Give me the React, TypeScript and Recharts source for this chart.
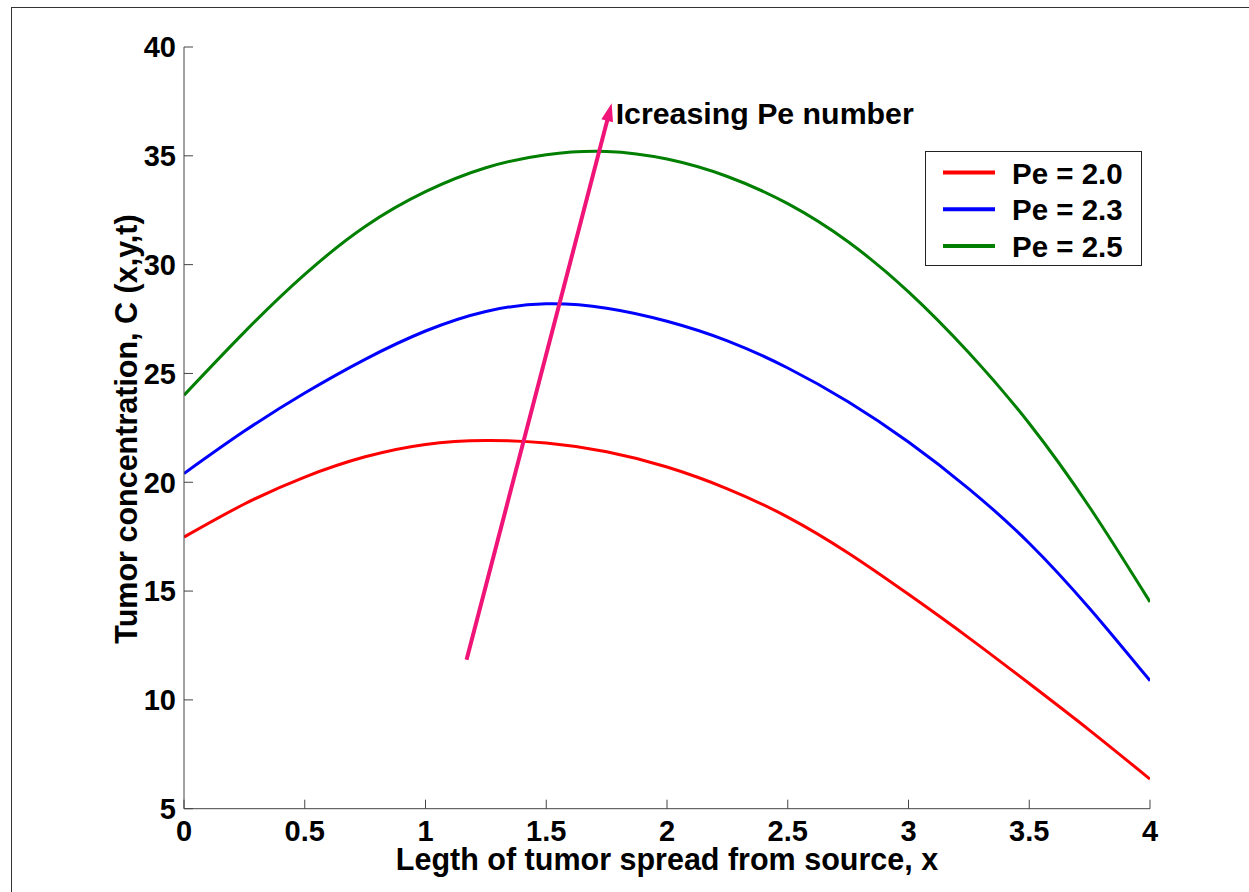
import React from "react";
import { LineChart, Line, XAxis, YAxis, ReferenceLine } from "recharts";

// values
const xValues = [0, 0.25, 0.5, 0.75, 1, 1.25, 1.5, 1.75, 2, 2.25, 2.5, 2.75, 3, 3.25, 3.5, 3.75, 4];
const pe20 = [17.48, 19.0, 20.24, 21.17, 21.74, 21.92, 21.8, 21.4, 20.7, 19.7, 18.4, 16.75, 14.85, 12.85, 10.75, 8.6, 6.36];
const pe23 = [20.4, 22.35, 24.1, 25.65, 26.95, 27.85, 28.2, 28.0, 27.4, 26.5, 25.25, 23.7, 21.85, 19.7, 17.2, 14.2, 10.88];
const pe25 = [24.0, 26.9, 29.55, 31.75, 33.35, 34.45, 35.05, 35.2, 34.85, 34.05, 32.8, 31.05, 28.75, 25.95, 22.7, 18.85, 14.5];

const seriesNames = ["Pe = 2.0", "Pe = 2.3", "Pe = 2.5"];
const seriesKeys = ["pe20", "pe23", "pe25"];
const seriesColors = ["#ff0000", "#0000ff", "#007f00"];

const xTicks = [0, 0.5, 1, 1.5, 2, 2.5, 3, 3.5, 4];
const yTicks = [5, 10, 15, 20, 25, 30, 35, 40];

const arrowFrom = { x: 1.17, y: 11.84 };
const arrowTo = { x: 1.771, y: 37.41 };

const data = xValues.map((x, i) => ({
  x,
  pe20: pe20[i],
  pe23: pe23[i],
  pe25: pe25[i],
}));

const FONT = "'Liberation Sans', Arial, Helvetica, sans-serif";
const AXIS = "#444";
const ARROW = "#f01478";

const ArrowShape = (props: any) => {
  const { x1, y1, x2, y2 } = props;
  const dx = x2 - x1;
  const dy = y2 - y1;
  const len = Math.hypot(dx, dy) || 1;
  const ux = dx / len;
  const uy = dy / len;
  const headLen = 18;
  const headW = 6;
  const bx = x2 - ux * headLen;
  const by = y2 - uy * headLen;
  const px = -uy;
  const py = ux;
  const pts = `${x2},${y2} ${bx + px * headW},${by + py * headW} ${bx - px * headW},${by - py * headW}`;
  return (
    <g>
      <line x1={x1} y1={y1} x2={bx + ux * 2} y2={by + uy * 2} stroke={ARROW} strokeWidth={4} />
      <polygon points={pts} fill={ARROW} />
      <text
        x={x2 + 4}
        y={y2 + 21}
        fontFamily={FONT}
        fontWeight="bold"
        fontSize={30.3}
        fill="#000"
      >
        Icreasing Pe number
      </text>
    </g>
  );
};

const tickStyle = { fontFamily: FONT, fontWeight: "bold", fontSize: 29, fill: "#000" };

export default function App() {
  return (
    <div style={{ position: "absolute", left: 0, top: 0, width: 1249, height: 892, background: "#fff" }}>
      <div
        style={{
          position: "absolute",
          left: 11,
          top: 7,
          width: 1238,
          height: 885,
          borderTop: "1px solid #333",
          borderLeft: "1px solid #333",
        }}
      />
      <LineChart
        width={1249}
        height={892}
        data={data}
        margin={{ top: 47, right: 99, bottom: 13.3, left: 0 }}
        style={{ position: "absolute", left: 0, top: 0 }}
      >
        <XAxis
          dataKey="x"
          type="number"
          domain={[0, 4]}
          ticks={xTicks}
          allowDataOverflow
          height={70}
          stroke={AXIS}
          tickSize={-9}
          tickMargin={21}
          tick={tickStyle}
          label={{
            content: () => (
              <text
                x={667}
                y={870}
                textAnchor="middle"
                fontFamily={FONT}
                fontWeight="bold"
                fontSize={30.5}
                fill="#000"
              >
                Legth of tumor spread from source, x
              </text>
            ),
          }}
        />
        <XAxis
          xAxisId="top"
          orientation="top"
          type="number"
          domain={[0, 4]}
          ticks={xTicks}
          allowDataOverflow
          height={0}
          stroke={AXIS}
          tickSize={-9}
          tick={false}
        />
        <YAxis
          type="number"
          domain={[5, 40]}
          ticks={yTicks}
          allowDataOverflow
          width={184}
          stroke={AXIS}
          tickSize={-9}
          tickMargin={17}
          tick={tickStyle}
          label={{
            content: () => (
              <text
                x={137}
                y={429}
                transform="rotate(-90 137 429)"
                textAnchor="middle"
                fontFamily={FONT}
                fontWeight="bold"
                fontSize={30.5}
                fill="#000"
              >
                Tumor concentration, C (x,y,t)
              </text>
            ),
          }}
        />
        <YAxis
          yAxisId="right"
          orientation="right"
          type="number"
          domain={[5, 40]}
          ticks={yTicks}
          allowDataOverflow
          width={0}
          stroke={AXIS}
          tickSize={-9}
          tick={false}
        />
        {seriesKeys.map((k, i) => (
          <Line
            key={k}
            type="natural"
            dataKey={k}
            name={seriesNames[i]}
            stroke={seriesColors[i]}
            strokeWidth={3}
            dot={false}
            activeDot={false}
            isAnimationActive={false}
          />
        ))}
        <ReferenceLine
          segment={[arrowFrom, arrowTo]}
          ifOverflow="visible"
          shape={ArrowShape}
        />
      </LineChart>
      <div
        style={{
          position: "absolute",
          left: 925,
          top: 151,
          width: 217,
          height: 115,
          border: "1px solid #222",
          boxSizing: "border-box",
          background: "#fff",
        }}
      >
        <svg width={215} height={113} style={{ display: "block" }}>
          {seriesNames.map((n, i) => (
            <g key={n}>
              <line
                x1={17}
                x2={69}
                y1={20.5 + i * 36.7}
                y2={20.5 + i * 36.7}
                stroke={seriesColors[i]}
                strokeWidth={4}
              />
              <text
                x={86}
                y={31.5 + i * 36.7}
                fontFamily={FONT}
                fontWeight="bold"
                fontSize={29.5}
                fill="#000"
              >
                {n}
              </text>
            </g>
          ))}
        </svg>
      </div>
    </div>
  );
}
